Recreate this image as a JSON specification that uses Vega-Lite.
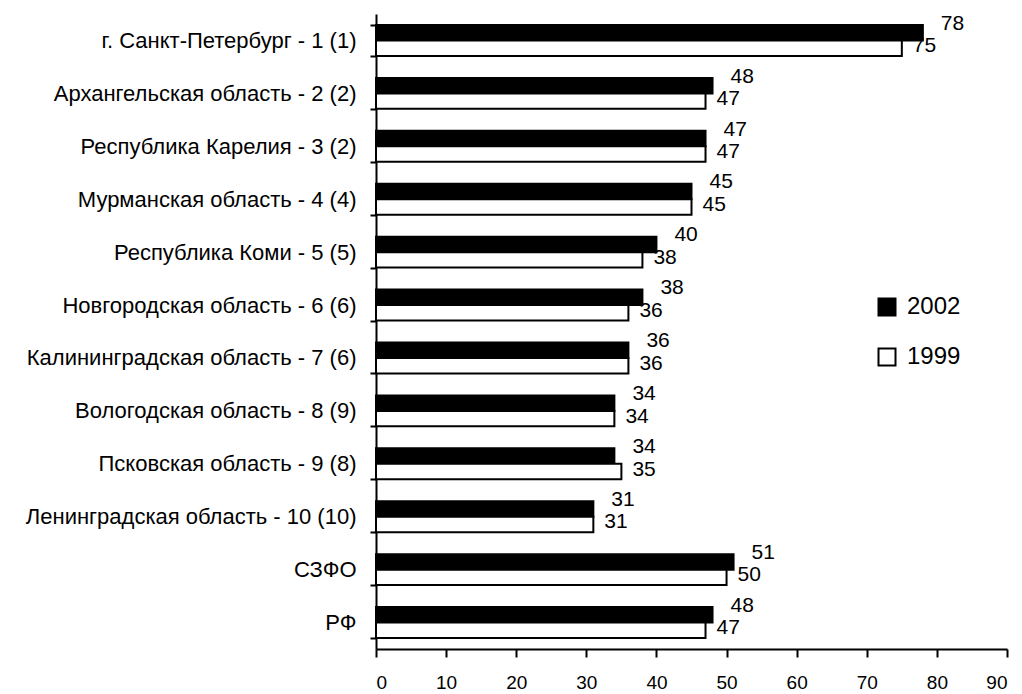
{
  "$schema": "https://vega.github.io/schema/vega-lite/v6.json",
  "width": 631,
  "height": 635,
  "autosize": {"type": "none"},
  "padding": {"left": 376, "top": 14, "right": 15, "bottom": 45},
  "background": "white",
  "config": {
    "view": {"stroke": null},
    "font": "Liberation Sans",
    "axis": {"labelFont": "Liberation Sans", "labelColor": "black", "domainColor": "black", "tickColor": "black", "grid": false}
  },
  "data": {
    "values": [
      {"region": "г. Санкт-Петербург - 1 (1)", "year": "2002", "value": 78},
      {"region": "г. Санкт-Петербург - 1 (1)", "year": "1999", "value": 75},
      {"region": "Архангельская область - 2 (2)", "year": "2002", "value": 48},
      {"region": "Архангельская область - 2 (2)", "year": "1999", "value": 47},
      {"region": "Республика Карелия - 3 (2)", "year": "2002", "value": 47},
      {"region": "Республика Карелия - 3 (2)", "year": "1999", "value": 47},
      {"region": "Мурманская область - 4 (4)", "year": "2002", "value": 45},
      {"region": "Мурманская область - 4 (4)", "year": "1999", "value": 45},
      {"region": "Республика Коми - 5 (5)", "year": "2002", "value": 40},
      {"region": "Республика Коми - 5 (5)", "year": "1999", "value": 38},
      {"region": "Новгородская область - 6 (6)", "year": "2002", "value": 38},
      {"region": "Новгородская область - 6 (6)", "year": "1999", "value": 36},
      {"region": "Калининградская область - 7 (6)", "year": "2002", "value": 36},
      {"region": "Калининградская область - 7 (6)", "year": "1999", "value": 36},
      {"region": "Вологодская область - 8 (9)", "year": "2002", "value": 34},
      {"region": "Вологодская область - 8 (9)", "year": "1999", "value": 34},
      {"region": "Псковская область - 9 (8)", "year": "2002", "value": 34},
      {"region": "Псковская область - 9 (8)", "year": "1999", "value": 35},
      {"region": "Ленинградская область - 10 (10)", "year": "2002", "value": 31},
      {"region": "Ленинградская область - 10 (10)", "year": "1999", "value": 31},
      {"region": "СЗФО", "year": "2002", "value": 51},
      {"region": "СЗФО", "year": "1999", "value": 50},
      {"region": "РФ", "year": "2002", "value": 48},
      {"region": "РФ", "year": "1999", "value": 47}
    ]
  },
  "encoding": {
    "y": {
      "field": "region",
      "type": "nominal",
      "sort": null,
      "scale": {"paddingInner": 0.415, "paddingOuter": 0.2075},
      "axis": {"title": null, "labelFontSize": 22, "labelPadding": 14, "tickBand": "extent", "tickSize": 6, "tickWidth": 2, "domainWidth": 2, "labelLimit": 400}
    },
    "yOffset": {"field": "year", "type": "nominal", "sort": ["2002", "1999"], "scale": {"paddingInner": 0, "paddingOuter": 0}},
    "x": {
      "field": "value",
      "type": "quantitative",
      "scale": {"domain": [0, 90], "nice": false},
      "axis": {"title": null, "values": [0, 10, 20, 30, 40, 50, 60, 70, 80, 90], "labelFontSize": 19, "labelPadding": 16, "tickSize": 8, "tickWidth": 2, "domainWidth": 2}
    }
  },
  "layer": [
    {
      "mark": {"type": "bar", "stroke": "black", "strokeWidth": 2},
      "encoding": {
        "fill": {
          "field": "year",
          "type": "nominal",
          "scale": {"domain": ["2002", "1999"], "range": ["black", "white"]},
          "legend": {
            "title": null,
            "orient": "none",
            "legendX": 499,
            "legendY": 281,
            "symbolType": "square",
            "symbolSize": 289,
            "symbolStrokeColor": "black",
            "symbolStrokeWidth": 2,
            "labelFontSize": 24,
            "labelColor": "black",
            "labelFont": "Liberation Sans",
            "rowPadding": 24,
            "labelOffset": 8
          }
        }
      }
    },
    {
      "transform": [{"filter": "datum.year == '2002'"}],
      "mark": {"type": "text", "align": "left", "baseline": "middle", "dx": 18, "dy": -9, "fontSize": 21, "color": "black"},
      "encoding": {"text": {"field": "value", "type": "quantitative"}}
    },
    {
      "transform": [{"filter": "datum.year == '1999'"}],
      "mark": {"type": "text", "align": "left", "baseline": "middle", "dx": 11, "dy": -2, "fontSize": 21, "color": "black"},
      "encoding": {"text": {"field": "value", "type": "quantitative"}}
    }
  ]
}
